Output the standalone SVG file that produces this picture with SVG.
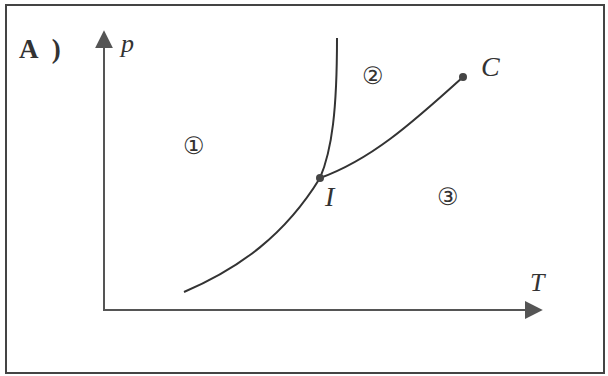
<svg xmlns="http://www.w3.org/2000/svg" width="608" height="376" viewBox="0 0 608 376">
<style>
.frame{fill:#fff;stroke:#444;stroke-width:2}
.axis{fill:none;stroke:#555;stroke-width:2}
.curve{fill:none;stroke:#333;stroke-width:2}
.lbl{font-family:"Liberation Serif",serif;font-style:italic;fill:#333}
.title{font-family:"Liberation Serif","Times New Roman",serif;font-weight:bold;fill:#333;font-size:27px;letter-spacing:4px}
.num{font-family:"DejaVu Sans",sans-serif;fill:#333;font-size:24px}
</style>
<defs>
<marker id="ah" viewBox="0 0 10 10" refX="9" refY="5" markerWidth="18" markerHeight="18" markerUnits="userSpaceOnUse" orient="auto">
<path d="M0,0 L10,5 L0,10 Z" fill="#555"/>
</marker>
</defs>
<rect class="frame" x="6" y="5" width="598" height="368"/>
<text class="title" x="19" y="58">A )</text>
<g id="axes">
<path class="axis" d="M104,311 L104,32" marker-end="url(#ah)"/>
<path class="axis" d="M103,310 L541,310" marker-end="url(#ah)"/>
<text class="lbl" x="121" y="52" font-size="26">p</text>
<text class="lbl" x="530" y="291" font-size="26">T</text>
</g>
<g id="connectors">
<path class="curve" d="M184,292 C240,268 285,235 320,178"/>
<path class="curve" d="M320,178 C332,150 337,110 337,38"/>
<path class="curve" d="M320,178 C370,160 410,125 463,77"/>
</g>
<g id="I"><circle cx="320" cy="178" r="4" fill="#444"/><text class="lbl" x="325" y="206" font-size="28">I</text></g>
<g id="C"><circle cx="463" cy="77" r="4" fill="#444"/><text class="lbl" x="481" y="76" font-size="28">C</text></g>
<g id="r1"><text class="num" x="183" y="154">①</text></g>
<g id="r2"><text class="num" x="362" y="84">②</text></g>
<g id="r3"><text class="num" x="437" y="205">③</text></g>
</svg>
